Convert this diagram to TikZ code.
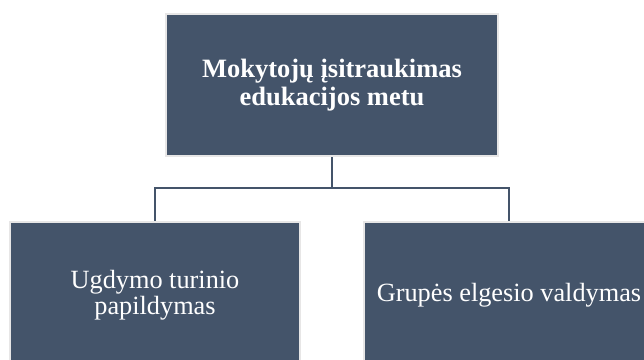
\documentclass[tikz,border=0pt]{standalone}
\usepackage{fontspec}
\setmainfont{Liberation Serif}
\usepackage{xcolor}
\usetikzlibrary{positioning,calc}
\definecolor{slateFill}{HTML}{44546A}
\definecolor{slateEdge}{HTML}{E7E6E6}
\tikzset{
  org box/.style={rectangle, draw=slateEdge, line width=2pt, fill=slateFill, text=white, align=center,
    minimum width=290pt, minimum height=146pt, inner sep=0pt,
    font=\fontsize{26.3}{26}\selectfont},
  org top/.style={org box, minimum width=332pt, minimum height=142pt,
    font=\fontsize{26.5}{28}\selectfont\bfseries},
  org link/.style={draw=slateFill, line width=2.4pt}
}
\begin{document}
\begin{tikzpicture}[x=1pt, y=1pt]
    \useasboundingbox (0,0) rectangle (644,-359);
    \clip (0,0) rectangle (644,-359);
    % Top level
    \node [org top] (Top) at (332,-85) {Mokytojų įsitraukimas\\edukacijos metu};
    
    % Second level
    \node [org box] (Ugd) at (155,-295) {Ugdymo turinio\\papildymas};
    \node [org box, right=62pt of Ugd] (Grp) {Grupės elgesio valdymas};
    
    % Connections
    \coordinate (Fork) at ($(Top.south)+(0,-31)$);
    \draw [org link] (Top.south) -- (Fork) -| (Ugd.north);
    \draw [org link] (Fork) -| (Grp.north);
\end{tikzpicture}
\end{document}
